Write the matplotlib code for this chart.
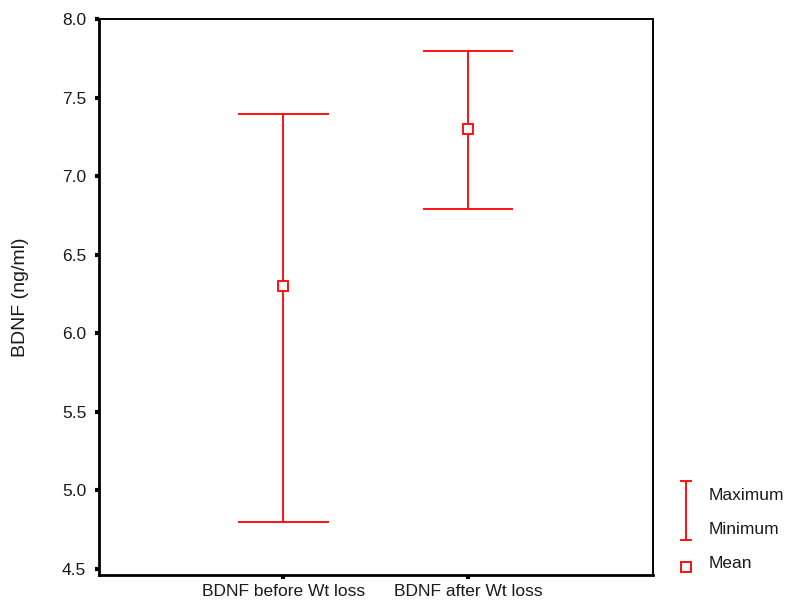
import matplotlib
matplotlib.use("Agg")
from matplotlib import pyplot as plt
from matplotlib.lines import Line2D

plt.rcParams["font.family"] = ["Liberation Sans", "DejaVu Sans"]

groups = ["BDNF before Wt loss", "BDNF after Wt loss"]
maximum = [7.4, 7.8]
minimum = [4.8, 6.79]
mean = [6.3, 7.3]

red = "#ff1010"
txt = "#1a1a1a"

fig = plt.figure(figsize=(7.96, 6.03), dpi=100)
ax = fig.add_axes([0.124, 0.046, 0.696, 0.922])

xs = [1, 2]
cap = 0.24
for x, lo, hi, m in zip(xs, minimum, maximum, mean):
    ax.plot([x, x], [lo, hi], color=red, lw=1.4)
    ax.plot([x - cap, x + cap], [hi, hi], color=red, lw=1.4)
    ax.plot([x - cap, x + cap], [lo, lo], color=red, lw=1.4)
    ax.plot(x, m, marker="s", ms=7, mfc="white", mec=red, mew=1.4)

ax.set_xlim(0, 3)
ax.set_ylim(4.46, 8.0)
ax.set_yticks([4.5, 5.0, 5.5, 6.0, 6.5, 7.0, 7.5, 8.0])
ax.set_yticklabels(["4.5", "5.0", "5.5", "6.0", "6.5", "7.0", "7.5", "8.0"])
ax.set_xticks(xs)
ax.set_xticklabels(groups)
ax.tick_params(axis="both", direction="out", length=3, width=3,
               labelsize=12.5, color="black", labelcolor=txt)
ax.tick_params(axis="y", pad=6)
ax.tick_params(axis="x", pad=3)
ax.set_ylabel("BDNF (ng/ml)", fontsize=14, color=txt)
ax.yaxis.set_label_coords(-0.125, 0.5)

for side in ["left", "bottom"]:
    ax.spines[side].set_linewidth(2)
for side in ["top", "right"]:
    ax.spines[side].set_linewidth(1.4)

# legend drawn in figure coordinates
def fx(px):
    return px / 796

def fy(py):
    return 1 - py / 603

lx = fx(686)
for line in [
    Line2D([lx, lx], [fy(481), fy(540)]),
    Line2D([lx - fx(5), lx + fx(5)], [fy(481), fy(481)]),
    Line2D([lx - fx(5), lx + fx(5)], [fy(540), fy(540)]),
]:
    line.set_color(red)
    line.set_linewidth(1.4)
    line.set_transform(fig.transFigure)
    fig.add_artist(line)
fig.add_artist(Line2D([fx(686)], [fy(567)], marker="s", ms=7, mfc="white",
                      mec=red, mew=1.4, transform=fig.transFigure))
fig.text(fx(709), fy(495), "Maximum", fontsize=12.5, va="center", color=txt)
fig.text(fx(709), fy(529), "Minimum", fontsize=12.5, va="center", color=txt)
fig.text(fx(709), fy(563), "Mean", fontsize=12.5, va="center", color=txt)

fig.savefig("out.png", dpi=100)
